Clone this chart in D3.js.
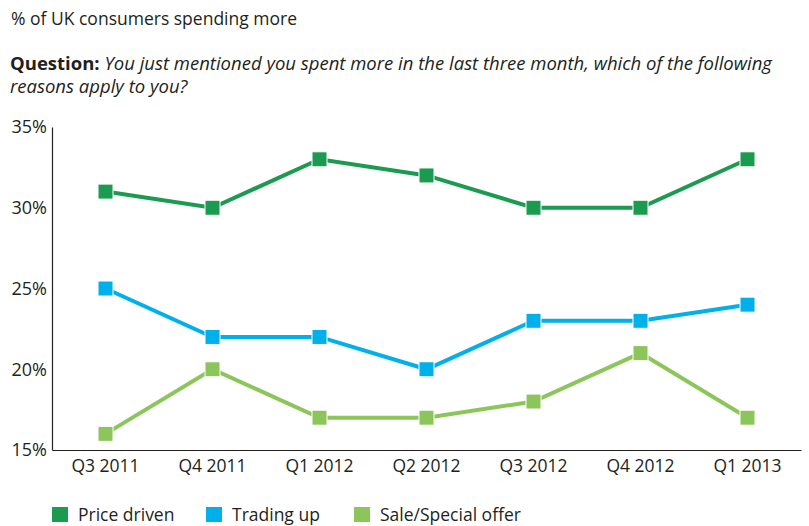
<!DOCTYPE html>
<html>
<head>
<meta charset="utf-8">
<script src="https://cdn.jsdelivr.net/npm/d3@7"></script>
<style>
  body { margin: 0; background: #fff; }
  svg { display: block; font-family: "Open Sans", "Noto Sans", sans-serif; }
</style>
</head>
<body>
<svg id="chart" width="809" height="526"></svg>
<script>
// Quarters surveyed
const quarters = ["Q3 2011", "Q4 2011", "Q1 2012", "Q2 2012", "Q3 2012", "Q4 2012", "Q1 2013"];

// Share of consumers (%) giving each reason
const priceDriven = [31, 30, 33, 32, 30, 30, 33];
const tradingUp = [25, 22, 22, 20, 23, 23, 24];
const saleOffer = [16, 20, 17, 17, 18, 21, 17];

const seriesNames = ["Price driven", "Trading up", "Sale/Special offer"];
const seriesColors = ["#1b9b4f", "#00b0eb", "#8cc65a"];
const yTicks = [15, 20, 25, 30, 35];

const series = [priceDriven, tradingUp, saleOffer].map((values, i) => ({
  name: seriesNames[i],
  color: seriesColors[i],
  values
}));

const svg = d3.select("#chart");
const textColor = "#231f20";
const font = "Open Sans, Noto Sans, sans-serif";

// Headings
svg.append("text")
  .attr("x", 11).attr("y", 25)
  .attr("font-size", 17.5).attr("fill", textColor)
  .text("% of UK consumers spending more");

const q = svg.append("text")
  .attr("x", 10).attr("y", 70)
  .attr("font-size", 18.5).attr("fill", textColor);
q.append("tspan").attr("font-weight", "bold").text("Question:");
q.append("tspan").attr("font-style", "italic")
  .text(" You just mentioned you spent more in the last three month, which of the following");
svg.append("text")
  .attr("x", 10).attr("y", 93)
  .attr("font-size", 18.5).attr("font-style", "italic").attr("fill", textColor)
  .text("reasons apply to you?");

// Scales
const x = d3.scaleBand().domain(quarters).range([52, 801]);
const y = d3.scaleLinear().domain([15, 35]).range([450, 127]);

// Axes
const yAxis = svg.append("g")
  .attr("transform", "translate(52,0)")
  .call(d3.axisLeft(y).tickValues(yTicks).tickSize(0).tickPadding(5).tickFormat(d => d + "%"));
yAxis.select(".domain").attr("stroke", textColor).attr("stroke-width", 1.2);
yAxis.selectAll("text").attr("font-size", 18).attr("fill", textColor)
  .attr("font-family", font);

const xAxis = svg.append("g")
  .attr("transform", "translate(0,450)")
  .call(d3.axisBottom(x).tickSize(0).tickPadding(10));
xAxis.select(".domain").attr("stroke", textColor).attr("stroke-width", 1.2);
xAxis.selectAll("text").attr("font-size", 17.5).attr("fill", textColor)
  .attr("font-family", font);

// Lines and square markers
const line = d3.line()
  .x((d, i) => x(quarters[i]) + x.bandwidth() / 2)
  .y(d => y(d));

const m = 15;
const groups = svg.append("g").selectAll("g")
  .data(series)
  .join("g");

groups.append("path")
  .attr("d", s => line(s.values))
  .attr("fill", "none")
  .attr("stroke", s => s.color)
  .attr("stroke-width", 4);

groups.each(function (s) {
  d3.select(this).selectAll("rect")
    .data(s.values)
    .join("rect")
    .attr("x", (d, i) => x(quarters[i]) + x.bandwidth() / 2 - m / 2)
    .attr("y", d => y(d) - m / 2)
    .attr("width", m)
    .attr("height", m)
    .attr("fill", s.color)
    .attr("stroke", "#ffffff")
    .attr("stroke-width", 1);
});

// Legend
const legendX = [52, 206, 354];
const legend = svg.append("g").selectAll("g")
  .data(series)
  .join("g")
  .attr("transform", (d, i) => `translate(${legendX[i]},507)`);
legend.append("rect")
  .attr("width", 16).attr("height", 15)
  .attr("fill", d => d.color);
legend.append("text")
  .attr("x", 26).attr("y", 14)
  .attr("font-size", 17.5).attr("fill", textColor)
  .text(d => d.name);
</script>
</body>
</html>
